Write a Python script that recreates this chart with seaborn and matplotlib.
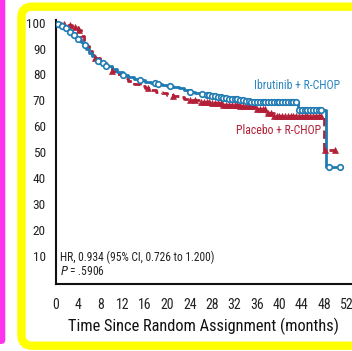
import numpy as np
import pandas as pd
import matplotlib.pyplot as plt
import seaborn as sns
from matplotlib.patches import FancyBboxPatch

# Curvas de Kaplan-Meier (meses, % sin evento)
ibr_t = [0, 0.5, 1, 1.5, 2, 2.5, 3, 3.5, 4, 4.5, 5, 5.5, 6, 6.5, 7, 7.5, 8, 9, 10, 11,
         12, 13, 14, 15, 16, 17, 18, 19, 20, 21, 22, 23, 24, 25, 26, 27, 28, 29, 30,
         31, 32, 33, 34, 35, 36, 43.3, 48.3, 50.8]
ibr_s = [100, 99.3, 98.5, 97.8, 97, 96.2, 95.4, 94.6, 93.8, 92.5, 91.2, 89.8, 88.2, 87,
         86, 85.2, 84.5, 83.3, 82.2, 81, 79.8, 79, 78.3, 77.8, 77.2, 76.6, 76.3, 76,
         75.7, 75.2, 74.6, 74, 73.3, 72.8, 72.4, 72, 71.6, 71.3, 71, 70.7, 70.4, 70.1,
         69.8, 69.5, 69.3, 66.4, 44.5, 44.5]
pla_t = [0, 1, 2, 3, 4, 4.5, 5, 5.5, 6, 6.5, 7, 8, 9, 10, 11, 12, 13, 14, 15, 16, 17,
         18, 19, 20, 21, 22, 23, 24, 26, 28, 30, 33, 36, 37.6, 39, 47.9, 49.9]
pla_s = [100, 99.5, 99, 98.3, 97, 95, 93, 91, 89, 87.5, 86.3, 84.5, 83, 81.5, 80, 78.8,
         77.6, 76.5, 75.6, 74.8, 74, 73.3, 72.7, 72.2, 71.7, 71.2, 70.7, 70.2, 69.5, 68.8, 68.3,
         68, 66.5, 65.3, 63.8, 51, 51]

# Censuras (meses)
ibr_cens = [0.5, 1.2, 1.8, 2.5, 3.2, 4, 5.3, 7.5, 8.5, 9, 12, 15.1, 17.8, 18.3, 20.5,
            24, 26.1, 27, 27.5, 28, 28.5, 29, 29.5, 30, 30.5, 31, 31.5, 32, 32.5, 33,
            33.5, 34, 34.5, 35, 35.5, 36, 36.5, 37, 37.5, 38, 38.5, 39, 39.5, 40, 40.5,
            41, 41.5, 42, 42.5, 43, 43.5, 44, 44.5, 45, 45.5, 46, 46.5, 47, 47.5, 48.8,
            50.8]
pla_cens = [1.5, 2.5, 3.5, 4.2, 7, 10, 16.5, 21, 24, 25, 26, 26.5, 27, 27.5, 28, 28.5,
            29, 29.5, 30, 30.5, 31, 31.5, 32, 32.5, 33, 33.5, 34, 34.5, 35, 35.5, 36,
            36.5, 37, 37.5, 38, 38.5, 39, 39.5, 40, 40.5, 41, 41.5, 42, 42.5, 43, 43.5,
            44, 44.5, 45, 45.5, 46, 46.5, 47, 47.5, 48.2, 49.9]

BLUE = '#1f7ab3'
RED = '#b31f37'


def km_at(t_steps, s_steps, t):
    idx = np.searchsorted(t_steps, t, side='right') - 1
    return np.array(s_steps)[idx]


curvas = pd.concat([
    pd.DataFrame({'t': ibr_t, 's': ibr_s, 'brazo': 'Ibrutinib + R-CHOP'}),
    pd.DataFrame({'t': pla_t, 's': pla_s, 'brazo': 'Placebo + R-CHOP'}),
])

sns.set_style('white')
plt.rcParams['font.family'] = ['Roboto Condensed', 'Archivo Narrow', 'DejaVu Sans']

fig = plt.figure(figsize=(3.52, 3.51), dpi=100)
ax = fig.add_axes([0.158, 0.191, 0.839, 0.752])

# Marcos decorativos
fig.patches.append(FancyBboxPatch((-0.03, 0.02), 0.045, 0.99, boxstyle='round,pad=0,rounding_size=0.012',
                                  transform=fig.transFigure, facecolor='#ff33ee', edgecolor='none'))
fig.patches.append(FancyBboxPatch((0.061, 0.015), 1.1, 0.966, boxstyle='round,pad=0,rounding_size=0.03',
                                  transform=fig.transFigure, facecolor='none', edgecolor='#ffff00', linewidth=6))

for brazo, color, ls in [('Placebo + R-CHOP', RED, (0, (3, 1.5))), ('Ibrutinib + R-CHOP', BLUE, '-')]:
    d = curvas[curvas['brazo'] == brazo]
    sns.lineplot(x=d['t'], y=d['s'], ax=ax, color=color, linestyle=ls, linewidth=2,
                 drawstyle='steps-post', estimator=None, sort=False)

sns.scatterplot(x=pla_cens, y=km_at(pla_t, pla_s, pla_cens), ax=ax, marker='^', s=18,
                color=RED, edgecolor=RED, linewidth=0.5, zorder=3)
sns.scatterplot(x=ibr_cens, y=km_at(ibr_t, ibr_s, ibr_cens), ax=ax, marker='o', s=16,
                facecolor='white', edgecolor=BLUE, linewidth=1.2, zorder=4)

ax.text(50.8, 75.8, 'Ibrutinib + R-CHOP', color='#2a86c0', fontsize=8.5, ha='right', va='center')
ax.text(47.4, 58.5, 'Placebo + R-CHOP', color=RED, fontsize=8.5, ha='right', va='center')
ax.text(0.8, 9.6, 'HR, 0.934 (95% CI, 0.726 to 1.200)', fontsize=8.3, ha='left', va='center', color='#222222')
ax.text(0.8, 3.9, r'$P$ = .5906', fontsize=8.3, ha='left', va='center', color='#222222')

ax.set_xlim(0, 52.8)
ax.set_ylim(-0.8, 101)
ax.set_xticks(range(0, 53, 4))
ax.set_yticks(range(10, 101, 10))
ax.set_xlabel('Time Since Random Assignment (months)', fontsize=11.8, color='#111111', labelpad=4)
ax.set_ylabel('')
sns.despine(ax=ax)
for s in ['left', 'bottom']:
    ax.spines[s].set_linewidth(1.5)
    ax.spines[s].set_color('#111111')
ax.tick_params(axis='both', direction='out', length=5, width=1.3, color='#111111', labelcolor='#222222')
ax.tick_params(axis='x', labelsize=10, pad=5)
ax.tick_params(axis='y', labelsize=9.5, pad=2)

fig.savefig('out.png', dpi=100)
